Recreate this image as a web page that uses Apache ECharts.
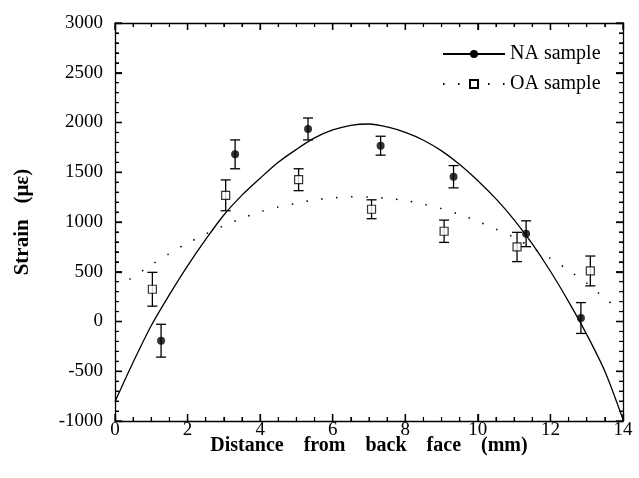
<!DOCTYPE html>
<html>
<head>
<meta charset="utf-8">
<script src="https://cdn.jsdelivr.net/npm/echarts@6/dist/echarts.min.js"></script>
<style>html,body{margin:0;padding:0;background:#fff;}#c{width:639px;height:478px;}</style>
</head>
<body>
<div id="c"></div>
<script>
// Measured data points (x in mm, strain in microstrain, error half-width)
const naX = [1.27, 3.31, 5.32, 7.32, 9.33, 11.33, 12.84];
const naY = [-193, 1680, 1935, 1767, 1455, 882, 35];
const naErr = [165, 145, 110, 95, 112, 130, 155];

const oaX = [1.03, 3.05, 5.06, 7.07, 9.07, 11.08, 13.1];
const oaY = [324, 1268, 1425, 1128, 907, 749, 508];
const oaErr = [170, 155, 110, 95, 112, 147, 150];

// Fitted curves
const naFitX = [0, 0.5, 1, 1.5, 2, 2.5, 3, 3.5, 4, 4.5, 5, 5.5, 6, 6.5, 7, 7.5, 8, 8.5, 9, 9.5, 10, 10.5, 11, 11.5, 12, 12.5, 13, 13.5, 14];
const naFitY = [-806, -410, -40, 270, 560, 825, 1070, 1270, 1440, 1600, 1730, 1845, 1925, 1972, 1985, 1955, 1900, 1822, 1715, 1578, 1415, 1232, 1022, 780, 505, 200, -130, -500, -985];

const oaFitX = [0.4, 1, 1.5, 2, 2.5, 3, 3.5, 4, 4.5, 5, 5.5, 6, 6.5, 7, 7.5, 8, 8.5, 9, 9.5, 10, 10.5, 11, 11.5, 12, 12.5, 13, 13.5, 13.8];
const oaFitY = [424, 568, 683, 787, 879, 963, 1037, 1103, 1151, 1188, 1223, 1241, 1254, 1250, 1238, 1215, 1179, 1134, 1075, 1006, 928, 845, 740, 635, 514, 385, 233, 150];

// Axis ticks
const xTicks = {min: 0, max: 14, interval: 2, minorSplit: 4};
const yTicks = {min: -1000, max: 3000, interval: 500, minorSplit: 5};
const xMajor = [0, 2, 4, 6, 8, 10, 12, 14];
const yMajor = [-1000, -500, 0, 500, 1000, 1500, 2000, 2500, 3000];

const seriesNames = ['NA sample', 'OA sample'];
const xTitle = 'Distance    from    back    face    (mm)';
const yTitle = 'Strain   (με)';

const zip = (a, b) => a.map((v, i) => [v, b[i]]);
const zip3 = (a, b, c) => a.map((v, i) => [v, b[i], c[i]]);

// minor tick values between the major ones
function minors(major, split) {
  const out = [];
  for (let i = 0; i < major.length - 1; i++) {
    const step = (major[i + 1] - major[i]) / split;
    for (let k = 1; k < split; k++) out.push(major[i] + step * k);
  }
  return out;
}
const tickData = []
  .concat(xMajor.map(v => [v, 0]))
  .concat(minors(xMajor, xTicks.minorSplit).map(v => [v, 1]))
  .concat(yMajor.map(v => [v, 2]))
  .concat(minors(yMajor, yTicks.minorSplit).map(v => [v, 3]));

const serif = 'Liberation Serif, Times New Roman, serif';

function errRender(params, api) {
  const x = api.value(0), y = api.value(1), e = api.value(2);
  const t = api.coord([x, y + e]);
  const b = api.coord([x, y - e]);
  const hw = 5;
  const st = {stroke: '#000', lineWidth: 1.3};
  return {
    type: 'group',
    children: [
      {type: 'line', shape: {x1: t[0], y1: t[1], x2: b[0], y2: b[1]}, style: st},
      {type: 'line', shape: {x1: t[0] - hw, y1: t[1], x2: t[0] + hw, y2: t[1]}, style: st},
      {type: 'line', shape: {x1: b[0] - hw, y1: b[1], x2: b[0] + hw, y2: b[1]}, style: st}
    ]
  };
}

function tickRender(params, api) {
  const v = api.value(0), kind = api.value(1);
  const len = (kind === 0 || kind === 2) ? 7 : 4;
  const st = {stroke: '#000', lineWidth: (kind === 0 || kind === 2) ? 1.3 : 1.1};
  if (kind < 2) {
    const b = api.coord([v, yTicks.min]), t = api.coord([v, yTicks.max]);
    return {type: 'group', children: [
      {type: 'line', shape: {x1: b[0], y1: b[1], x2: b[0], y2: b[1] - len}, style: st},
      {type: 'line', shape: {x1: t[0], y1: t[1], x2: t[0], y2: t[1] + len}, style: st}
    ]};
  }
  const l = api.coord([xTicks.min, v]), r = api.coord([xTicks.max, v]);
  return {type: 'group', children: [
    {type: 'line', shape: {x1: l[0], y1: l[1], x2: l[0] + len, y2: l[1]}, style: st},
    {type: 'line', shape: {x1: r[0], y1: r[1], x2: r[0] - len, y2: r[1]}, style: st}
  ]};
}

function mkAxis(t, pos, extra) {
  return Object.assign({
    type: 'value', min: t.min, max: t.max, interval: t.interval, position: pos,
    axisLine: {show: true, onZero: false, lineStyle: {color: '#000', width: 1.3}},
    axisTick: {show: true, inside: true, length: 7, lineStyle: {color: '#000', width: 1.3}},
    minorTick: {show: true, splitNumber: t.minorSplit, length: 4, lineStyle: {color: '#000', width: 1.1}},
    axisLabel: {show: false},
    splitLine: {show: false}
  }, extra || {});
}

const chart = echarts.init(document.getElementById('c'), null, {renderer: 'canvas'});
chart.setOption({
  animation: false,
  backgroundColor: '#fff',
  grid: {left: 115, right: 16, top: 23, bottom: 57, containLabel: false},
  legend: {
    data: seriesNames,
    orient: 'vertical',
    left: 437,
    top: 39,
    itemWidth: 62,
    itemHeight: 10,
    itemGap: 10,
    textStyle: {fontFamily: serif, fontSize: 20, color: '#000'},
    selectedMode: false
  },
  xAxis: [
    mkAxis(xTicks, 'bottom', {
      name: xTitle, nameLocation: 'middle', nameGap: 15, nameMoveOverlap: false,
      nameTextStyle: {fontFamily: serif, fontSize: 20, fontWeight: 'bold', color: '#000', verticalAlign: 'top'},
      axisLabel: {show: true, margin: 0, fontFamily: serif, fontSize: 19, color: '#000', formatter: v => String(v)}
    }),
    mkAxis(xTicks, 'top')
  ],
  yAxis: [
    mkAxis(yTicks, 'left', {
      name: yTitle, nameLocation: 'middle', nameGap: 82, nameRotate: 90, nameMoveOverlap: false,
      nameTextStyle: {fontFamily: serif, fontSize: 21, fontWeight: 'bold', color: '#000'},
      axisLabel: {show: true, margin: 12, fontFamily: serif, fontSize: 19, color: '#000', formatter: v => String(v)}
    }),
    mkAxis(yTicks, 'right')
  ],
  series: [
    {
      name: seriesNames[0], type: 'line', data: zip(naFitX, naFitY),
      smooth: 0.3, showSymbol: false, symbol: 'circle', silent: true,
      lineStyle: {color: '#000', width: 1.3, type: 'solid'},
      itemStyle: {color: '#000'}, z: 2
    },
    {
      name: seriesNames[1], type: 'line', data: zip(oaFitX, oaFitY),
      smooth: 0.3, showSymbol: false, symbol: 'rect', silent: true,
      lineStyle: {color: '#000', width: 1.5, type: [1.5, 13.5]},
      itemStyle: {color: '#fff', borderColor: '#000', borderWidth: 1}, z: 2
    },
    {
      name: 'ticks', type: 'custom', renderItem: tickRender, data: tickData, clip: false, z: 1, silent: true
    },
    {
      name: 'NA err', type: 'custom', renderItem: errRender, data: zip3(naX, naY, naErr), z: 3, silent: true
    },
    {
      name: 'OA err', type: 'custom', renderItem: errRender, data: zip3(oaX, oaY, oaErr), z: 3, silent: true
    },
    {
      name: 'NA pts', type: 'scatter', data: zip(naX, naY), symbol: 'circle', symbolSize: 8,
      itemStyle: {color: '#000'}, z: 4, silent: true
    },
    {
      name: 'OA pts', type: 'scatter', data: zip(oaX, oaY), symbol: 'rect', symbolSize: 8,
      itemStyle: {color: '#fff', borderColor: '#000', borderWidth: 1.2}, z: 4, silent: true
    }
  ]
});
</script>
</body>
</html>
